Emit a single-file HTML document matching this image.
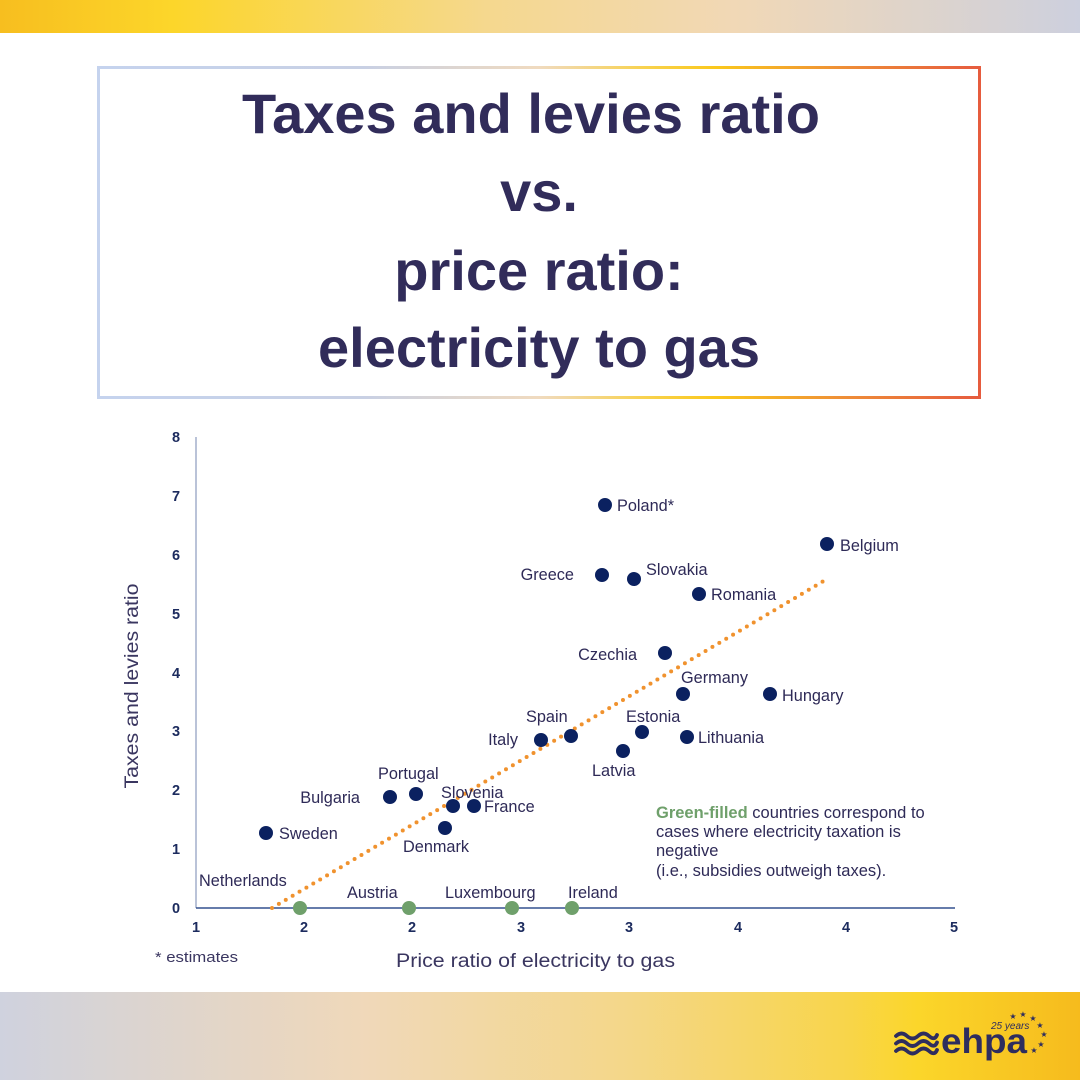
<!DOCTYPE html>
<html>
<head>
<meta charset="utf-8">
<style>
html,body{margin:0;padding:0;background:#fff;}
body{width:1080px;height:1080px;overflow:hidden;}
svg{display:block;}
text{font-family:"Liberation Sans",Arial,sans-serif;}
</style>
</head>
<body>
<svg width="1080" height="1080" viewBox="0 0 1080 1080" xmlns="http://www.w3.org/2000/svg">
<defs>
<linearGradient id="topbar" x1="0" y1="0" x2="1" y2="0">
<stop offset="0" stop-color="#F7BE1F"/>
<stop offset="0.16" stop-color="#FCD62A"/>
<stop offset="0.45" stop-color="#F5D88E"/>
<stop offset="0.68" stop-color="#F1D8B6"/>
<stop offset="1" stop-color="#CDD0DE"/>
</linearGradient>
<linearGradient id="botbar" x1="0" y1="0" x2="1" y2="0">
<stop offset="0" stop-color="#CFD2DE"/>
<stop offset="0.34" stop-color="#F0D8B9"/>
<stop offset="0.58" stop-color="#F4D789"/>
<stop offset="0.78" stop-color="#F8D54C"/>
<stop offset="0.85" stop-color="#FBD62A"/>
<stop offset="1" stop-color="#F6BB1D"/>
</linearGradient>
<linearGradient id="boxg" gradientUnits="userSpaceOnUse" x1="97" y1="0" x2="981" y2="0">
<stop offset="0" stop-color="#C5D3EE"/>
<stop offset="0.3" stop-color="#C8D0E4"/>
<stop offset="0.5" stop-color="#F0DABF"/>
<stop offset="0.62" stop-color="#F8D24E"/>
<stop offset="0.7" stop-color="#FAC81C"/>
<stop offset="0.85" stop-color="#EE8C38"/>
<stop offset="1" stop-color="#E65B3E"/>
</linearGradient>
</defs>

<!-- top bar -->
<rect x="0" y="0" width="1080" height="33" fill="url(#topbar)"/>
<!-- bottom band -->
<rect x="0" y="992" width="1080" height="88" fill="url(#botbar)"/>

<!-- title box -->
<rect x="98.5" y="67.5" width="881" height="330" fill="none" stroke="url(#boxg)" stroke-width="3"/>

<g font-weight="bold" font-size="56" fill="#312C5A" text-anchor="middle">
<text x="531" y="133">Taxes and levies ratio</text>
<text x="539" y="211">vs.</text>
<text x="539" y="290">price ratio:</text>
<text x="539" y="367">electricity to gas</text>
</g>

<!-- axes -->
<line x1="196" y1="437" x2="196" y2="908" stroke="#A3AFCB" stroke-width="1.5"/>
<line x1="196" y1="908" x2="955" y2="908" stroke="#33508F" stroke-width="1.5"/>

<!-- y tick labels -->
<g font-weight="bold" font-size="14.5" fill="#1C2B5E" text-anchor="middle">
<text x="176" y="442">8</text>
<text x="176" y="501">7</text>
<text x="176" y="560">6</text>
<text x="176" y="619">5</text>
<text x="176" y="678">4</text>
<text x="176" y="736">3</text>
<text x="176" y="795">2</text>
<text x="176" y="854">1</text>
<text x="176" y="913">0</text>
</g>
<!-- x tick labels -->
<g font-weight="bold" font-size="14.5" fill="#1C2B5E" text-anchor="middle">
<text x="196" y="932">1</text>
<text x="304" y="932">2</text>
<text x="412" y="932">2</text>
<text x="521" y="932">3</text>
<text x="629" y="932">3</text>
<text x="738" y="932">4</text>
<text x="846" y="932">4</text>
<text x="954" y="932">5</text>
</g>

<!-- axis titles -->
<text x="0" y="0" transform="translate(138,686) rotate(-90)" text-anchor="middle" font-size="19" fill="#3A3660" textLength="205" lengthAdjust="spacingAndGlyphs">Taxes and levies ratio</text>
<text x="535.5" y="967" text-anchor="middle" font-size="19" fill="#3A3660" textLength="279" lengthAdjust="spacingAndGlyphs">Price ratio of electricity to gas</text>
<text x="155" y="962" font-size="15" fill="#3A3660" textLength="83" lengthAdjust="spacingAndGlyphs">* estimates</text>

<!-- trend line -->
<line x1="272" y1="908" x2="827" y2="579" stroke="#F0922E" stroke-width="4" stroke-linecap="round" stroke-dasharray="0 8"/>

<!-- points -->
<g fill="#0B2160">
<circle cx="605" cy="505" r="7"/>
<circle cx="827" cy="544" r="7"/>
<circle cx="602" cy="575" r="7"/>
<circle cx="634" cy="579" r="7"/>
<circle cx="699" cy="594" r="7"/>
<circle cx="665" cy="653" r="7"/>
<circle cx="683" cy="694" r="7"/>
<circle cx="770" cy="694" r="7"/>
<circle cx="642" cy="732" r="7"/>
<circle cx="687" cy="737" r="7"/>
<circle cx="571" cy="736" r="7"/>
<circle cx="541" cy="740" r="7"/>
<circle cx="623" cy="751" r="7"/>
<circle cx="416" cy="794" r="7"/>
<circle cx="390" cy="797" r="7"/>
<circle cx="453" cy="806" r="7"/>
<circle cx="474" cy="806" r="7"/>
<circle cx="445" cy="828" r="7"/>
<circle cx="266" cy="833" r="7"/>
</g>
<g fill="#6FA06B">
<circle cx="300" cy="908" r="7"/>
<circle cx="409" cy="908" r="7"/>
<circle cx="512" cy="908" r="7"/>
<circle cx="572" cy="908" r="7"/>
</g>

<!-- labels -->
<g font-size="16.3" fill="#2E2A57">
<text x="617" y="511">Poland*</text>
<text x="840" y="551">Belgium</text>
<text x="574" y="580" text-anchor="end">Greece</text>
<text x="646" y="575">Slovakia</text>
<text x="711" y="600">Romania</text>
<text x="637" y="660" text-anchor="end">Czechia</text>
<text x="681" y="683">Germany</text>
<text x="782" y="701">Hungary</text>
<text x="626" y="722">Estonia</text>
<text x="698" y="743">Lithuania</text>
<text x="526" y="722">Spain</text>
<text x="518" y="745" text-anchor="end">Italy</text>
<text x="592" y="776">Latvia</text>
<text x="378" y="779">Portugal</text>
<text x="360" y="803" text-anchor="end">Bulgaria</text>
<text x="441" y="798">Slovenia</text>
<text x="484" y="812">France</text>
<text x="403" y="852">Denmark</text>
<text x="279" y="839">Sweden</text>
<text x="199" y="886">Netherlands</text>
<text x="347" y="898">Austria</text>
<text x="445" y="898">Luxembourg</text>
<text x="568" y="898">Ireland</text>
</g>

<!-- annotation -->
<g font-size="16.5" fill="#2E2A57">
<text x="656" y="818"><tspan font-weight="bold" fill="#6FA06B">Green-filled</tspan> countries correspond to</text>
<text x="656" y="837">cases where electricity taxation is</text>
<text x="656" y="856">negative</text>
<text x="656" y="876">(i.e., subsidies outweigh taxes).</text>
</g>

<!-- logo -->
<g fill="none" stroke="#2E2D5E" stroke-width="3.8" stroke-linecap="round">
<path d="M896 1036 q5.5 -5 11 0 t11 0 t11 0 t8 -1"/>
<path d="M896 1043.5 q5.5 -5 11 0 t11 0 t11 0 t8 -1"/>
<path d="M896 1051 q5.5 -5 11 0 t11 0 t11 0 t8 -1"/>
</g>
<text x="941" y="1053" font-size="35" font-weight="bold" fill="#2E2D5E" textLength="86" lengthAdjust="spacingAndGlyphs">ehpa</text>
<text x="991" y="1029" font-size="10" font-style="italic" fill="#2E2D5E">25 years</text>
<g fill="#2E2D5E" font-size="8" text-anchor="middle">
<text x="1013" y="1019">★</text>
<text x="1023" y="1017">★</text>
<text x="1033" y="1021">★</text>
<text x="1040" y="1028">★</text>
<text x="1044" y="1037">★</text>
<text x="1041" y="1047">★</text>
<text x="1034" y="1053">★</text>
</g>
</svg>
</body>
</html>
